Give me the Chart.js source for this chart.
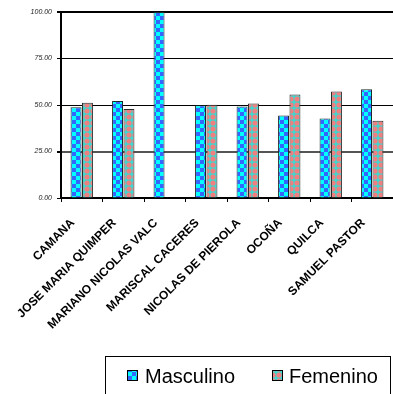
<!DOCTYPE html>
<html>
<head>
<meta charset="utf-8">
<script src="https://cdn.jsdelivr.net/npm/chart.js@4.4.1/dist/chart.umd.min.js"></script>
<style>
  html, body { margin: 0; padding: 0; background: #fff; }
  #chart { display: block; }
</style>
</head>
<body>
<canvas id="chart" width="393" height="394"></canvas>
<script>
// data
const districts = ['CAMANA', 'JOSE MARIA QUIMPER', 'MARIANO NICOLAS VALC', 'MARISCAL CACERES',
  'NICOLAS DE PIEROLA', 'OCOÑA', 'QUILCA', 'SAMUEL PASTOR'];
const masculino = [48.8, 52.2, 100, 49.8, 49.2, 44.3, 42.8, 58.5];
const femenino = [51.2, 47.8, null, 50.2, 50.8, 55.7, 57.2, 41.5];
const yTicks = [0, 25, 50, 75, 100];

const FONT = "'Liberation Sans', Arial, sans-serif";

// fill patterns like the old Excel ones
function makePattern(draw, size) {
  const c = document.createElement('canvas');
  c.width = size;
  c.height = size;
  draw(c.getContext('2d'), size);
  return c.getContext('2d').createPattern(c, 'repeat');
}

const checkerBlue = makePattern((g, s) => {
  g.fillStyle = '#00ffff';
  g.fillRect(0, 0, s, s);
  g.fillStyle = '#3366ff';
  g.fillRect(0, 0, s / 2, s / 2);
  g.fillRect(s / 2, s / 2, s / 2, s / 2);
}, 8);

const dotsSalmon = makePattern((g, s) => {
  g.fillStyle = '#3fd6d0';
  g.fillRect(0, 0, s, s);
  g.fillStyle = '#f08080';
  g.beginPath();
  g.arc(s / 2, s / 2, s / 2 - 0.4, 0, Math.PI * 2);
  g.fill();
}, 6);

// boxed legend at the bottom right, as in the reference
const boxLegend = {
  id: 'boxLegend',
  afterDraw(chart) {
    const ctx = chart.ctx;
    ctx.save();
    ctx.strokeStyle = '#000';
    ctx.lineWidth = 1;
    ctx.strokeRect(105.5, 356.5, 285, 60);
    const spots = [[127, 145], [272, 289]];
    ctx.font = '20px ' + FONT;
    ctx.textBaseline = 'alphabetic';
    chart.data.datasets.forEach((ds, i) => {
      const [bx, tx] = spots[i];
      ctx.fillStyle = ds.backgroundColor;
      ctx.fillRect(bx, 370, 11, 11);
      ctx.strokeStyle = '#000';
      ctx.strokeRect(bx + 0.5, 370.5, 10, 10);
      ctx.fillStyle = '#000';
      ctx.fillText(ds.label, tx, 383);
    });
    ctx.restore();
  }
};

new Chart(document.getElementById('chart'), {
  type: 'bar',
  data: {
    labels: districts,
    datasets: [
      {
        label: 'Masculino',
        data: masculino,
        backgroundColor: checkerBlue,
        borderColor: '#1c2a2a',
        borderWidth: 1,
        categoryPercentage: 0.55,
        barPercentage: 0.96
      },
      {
        label: 'Femenino',
        data: femenino,
        backgroundColor: dotsSalmon,
        borderColor: '#2a2a2a',
        borderWidth: 1,
        categoryPercentage: 0.55,
        barPercentage: 0.96
      }
    ]
  },
  options: {
    responsive: false,
    animation: false,
    layout: { padding: { top: 12, right: 0, left: 0, bottom: 0 } },
    plugins: {
      legend: { display: false },
      tooltip: { enabled: false }
    },
    scales: {
      x: {
        afterFit: (scale) => {
          scale.height = 196;
          scale.paddingLeft = 0;
          scale.paddingRight = 0;
        },
        border: { color: '#000', width: 2 },
        grid: {
          drawOnChartArea: false,
          drawTicks: true,
          tickLength: 4,
          tickColor: '#000',
          lineWidth: 1
        },
        ticks: {
          autoSkip: false,
          minRotation: 45,
          maxRotation: 45,
          padding: 14,
          labelOffset: -9,
          color: '#000',
          font: { family: FONT, size: 12, weight: 'bold' }
        }
      },
      y: {
        min: 0,
        max: 100,
        afterFit: (scale) => { scale.width = 61; },
        afterBuildTicks: (scale) => { scale.ticks = yTicks.map((v) => ({ value: v })); },
        border: { color: '#000', width: 2 },
        grid: {
          color: (c) => (c.tick.value === 0 ? 'rgba(0,0,0,0)' : c.tick.value === 25 ? '#555' : '#000'),
          lineWidth: (c) => (c.tick.value === 100 || c.tick.value === 25 ? 2 : 1),
          tickColor: '#000',
          tickLength: 4,
          drawTicks: true
        },
        ticks: {
          padding: 5,
          color: '#222',
          font: { family: FONT, size: 7, style: 'italic' },
          callback: (v) => Number(v).toFixed(2)
        }
      }
    }
  },
  plugins: [boxLegend]
});
</script>
</body>
</html>
